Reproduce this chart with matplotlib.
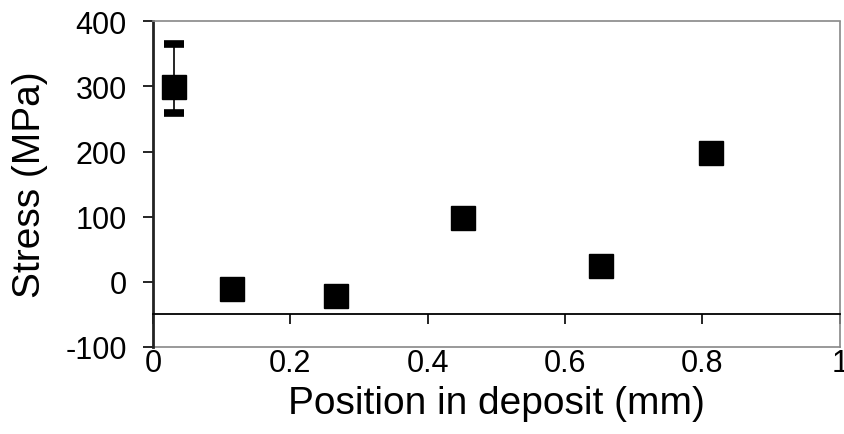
import matplotlib.pyplot as plt
import numpy as np

plt.rcParams['font.family'] = ['Liberation Sans', 'DejaVu Sans']
plt.rcParams['axes.unicode_minus'] = False

# residual stress through the deposit
position = [0.030, 0.115, 0.266, 0.451, 0.652, 0.813]
stress = [299, -11, -22, 98, 24, 197]
err_low = [40, 0, 0, 0, 0, 0]
err_high = [66, 0, 0, 0, 0, 0]

x_ticks = [0, 0.2, 0.4, 0.6, 0.8, 1]
x_labels = ['0', '0.2', '0.4', '0.6', '0.8', '1']
y_ticks = [-100, 0, 100, 200, 300, 400]
axis_cross = -50

fig = plt.figure(figsize=(8.44, 4.35), dpi=100)
ax = fig.add_axes([0.1813, 0.2, 0.8137, 0.749])

ax.errorbar(position[:1], stress[:1], yerr=[err_low[:1], err_high[:1]],
            fmt='none', ecolor='black', elinewidth=1.2, capsize=7, capthick=5.5,
            zorder=2)
ax.plot(position, stress, linestyle='none', marker='s', markersize=17,
        color='black', zorder=3)

ax.set_xlim(0, 1)
ax.set_ylim(-100, 400)
ax.set_yticks(y_ticks)
ax.set_xticks(x_ticks)

# x axis drawn through y = -50, labels kept at the bottom of the frame
ax.spines['bottom'].set_position(('data', axis_cross))
ax.spines['bottom'].set_color('black')
ax.spines['bottom'].set_linewidth(1.3)
ax.tick_params(axis='x', direction='out', length=7, width=1.2,
               labelbottom=False)

sec = ax.secondary_xaxis(0)
sec.set_xticks(x_ticks)
sec.set_xticklabels(x_labels)
sec.tick_params(axis='x', length=0, pad=1, labelsize=22)
sec.spines['bottom'].set_linestyle((0, (1, 1)))
sec.spines['bottom'].set_color('#888888')
sec.spines['bottom'].set_linewidth(1.2)
sec.set_xlabel('Position in deposit (mm)', fontsize=28, labelpad=5)

for side in ['top', 'right']:
    ax.spines[side].set_linestyle((0, (1, 1)))
    ax.spines[side].set_color('#888888')
    ax.spines[side].set_linewidth(1.2)
ax.spines['left'].set_linewidth(2)
ax.spines['left'].set_color('#222222')

ax.tick_params(axis='y', direction='out', length=7, width=1.2, labelsize=22, pad=12)
ax.set_ylabel('Stress (MPa)', fontsize=28, labelpad=12)

fig.savefig('out.png', dpi=100)
